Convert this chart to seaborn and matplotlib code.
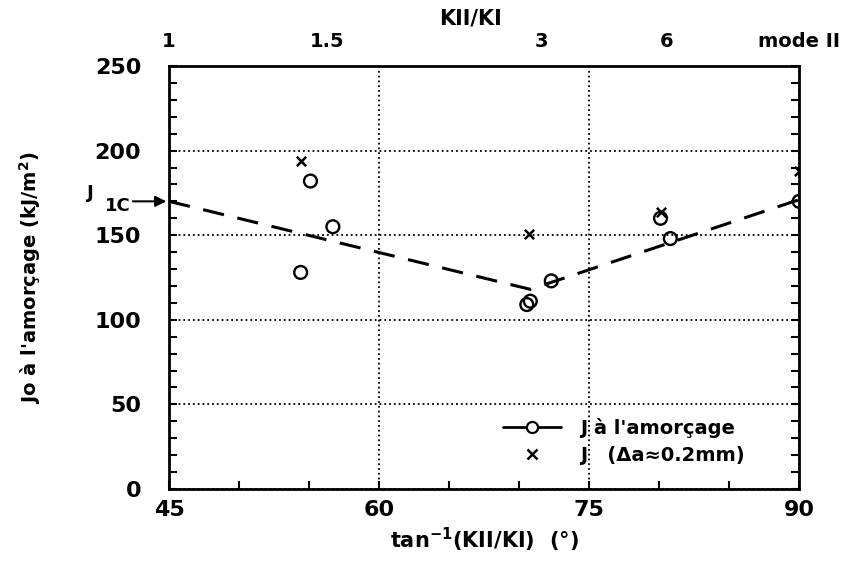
import numpy as np
import matplotlib
matplotlib.use("Agg")
import matplotlib.pyplot as plt
from matplotlib.ticker import MultipleLocator
from matplotlib.lines import Line2D
import seaborn as sns

# values
ang_circ = [54.4, 55.1, 56.7, 70.55, 70.8, 72.3, 80.1, 80.8, 90.0]
j_circ = [128, 182, 155, 109, 111, 123, 160, 148, 170]
ang_x = [54.4, 70.7, 80.1, 90.0]
j_x = [194, 151, 164, 188]
ang_fit = [45, 70.8, 90]
j_fit = [170, 118, 171]
ratio_labels = ["1", "1.5", "3", "6", "mode II"]
ratio_pos = [45, np.degrees(np.arctan(1.5)), np.degrees(np.arctan(3)),
             np.degrees(np.arctan(6)), 90]

sns.set_style("ticks")
plt.rcParams['font.family'] = ['DejaVu Sans']
plt.rcParams['font.weight'] = 'bold'
plt.rcParams['mathtext.default'] = 'regular'
plt.rcParams['text.color'] = 'k'
plt.rcParams['axes.labelcolor'] = 'k'
plt.rcParams['xtick.color'] = 'k'
plt.rcParams['ytick.color'] = 'k'

fig = plt.figure(figsize=(8.43, 5.61), dpi=100)
ax = fig.add_axes([0.2005, 0.1283, 0.7475, 0.7541])

sns.lineplot(x=ang_fit, y=j_fit, ax=ax, color='k', lw=2.2,
             dashes=False, linestyle=(0, (7, 4.5)))
sns.scatterplot(x=ang_circ, y=j_circ, ax=ax, marker='o', s=85,
                facecolors='none', edgecolor='k', linewidth=1.7, zorder=3)
sns.scatterplot(x=ang_x, y=j_x, ax=ax, marker='x', s=45, color='k',
                linewidth=1.8, zorder=3)

ax.set_xlim(45, 90)
ax.set_ylim(0, 250)
ax.xaxis.set_major_locator(MultipleLocator(15))
ax.xaxis.set_minor_locator(MultipleLocator(5))
ax.yaxis.set_major_locator(MultipleLocator(50))
ax.yaxis.set_minor_locator(MultipleLocator(10))
ax.tick_params(which='both', direction='in', top=True, right=True,
               length=6, width=1.5, labelsize=16, colors='k')
ax.tick_params(axis='x', pad=8)
ax.tick_params(axis='y', pad=20)
for s in ax.spines.values():
    s.set_linewidth(2)
    s.set_color('k')
ax.grid(which='major', linestyle=':', color='k', lw=1.3)

ax.set_xlabel(r"tan$^{-1}$(KII/KI)  (°)", fontsize=15, fontweight='bold')
ax.xaxis.set_label_coords(0.5, -0.088)
ax.set_ylabel(r"Jo à l'amorçage (kJ/m$^{2}$)", fontsize=14, fontweight='bold')
ax.yaxis.set_label_coords(-0.2, 0.5)

# top axis with KII/KI ratios
ax2 = ax.twiny()
ax2.set_xlim(45, 90)
ax2.set_xticks(ratio_pos)
ax2.set_xticklabels(ratio_labels, fontsize=14, fontweight='bold')
ax2.tick_params(axis='x', length=0, pad=11, colors='k')
for s in ax2.spines.values():
    s.set_visible(False)
ax2.set_xlabel("KII/KI", fontsize=15, fontweight='bold')
ax2.xaxis.set_label_coords(0.478, 1.098)

# J1C arrow on the left
ax.annotate('', xy=(45, 170), xytext=(-28, 0), textcoords='offset points',
            arrowprops=dict(arrowstyle='-|>', color='k', lw=1.5, mutation_scale=16),
            annotation_clip=False)
ax.annotate('J', xy=(45, 170), xytext=(-57, 6), textcoords='offset points',
            ha='center', va='center', fontsize=13, fontweight='bold', annotation_clip=False)
ax.annotate('1C', xy=(45, 170), xytext=(-37, -3), textcoords='offset points',
            ha='center', va='center', fontsize=13, fontweight='bold', annotation_clip=False)

handles = [Line2D([], [], color='k', lw=2, marker='o', mfc='white', mec='k', ms=8, mew=1.6),
           Line2D([], [], color='k', lw=0, marker='x', ms=7, mew=1.8)]
labels = ["J à l'amorçage", "J   (Δa≈0.2mm)"]
ax.legend(handles, labels, loc='upper left', bbox_to_anchor=(0.514, 0.192),
          frameon=False, fontsize=14, handlelength=3.0, handletextpad=1.0,
          labelspacing=0.45, borderpad=0)

fig.savefig("out.png", dpi=100)
